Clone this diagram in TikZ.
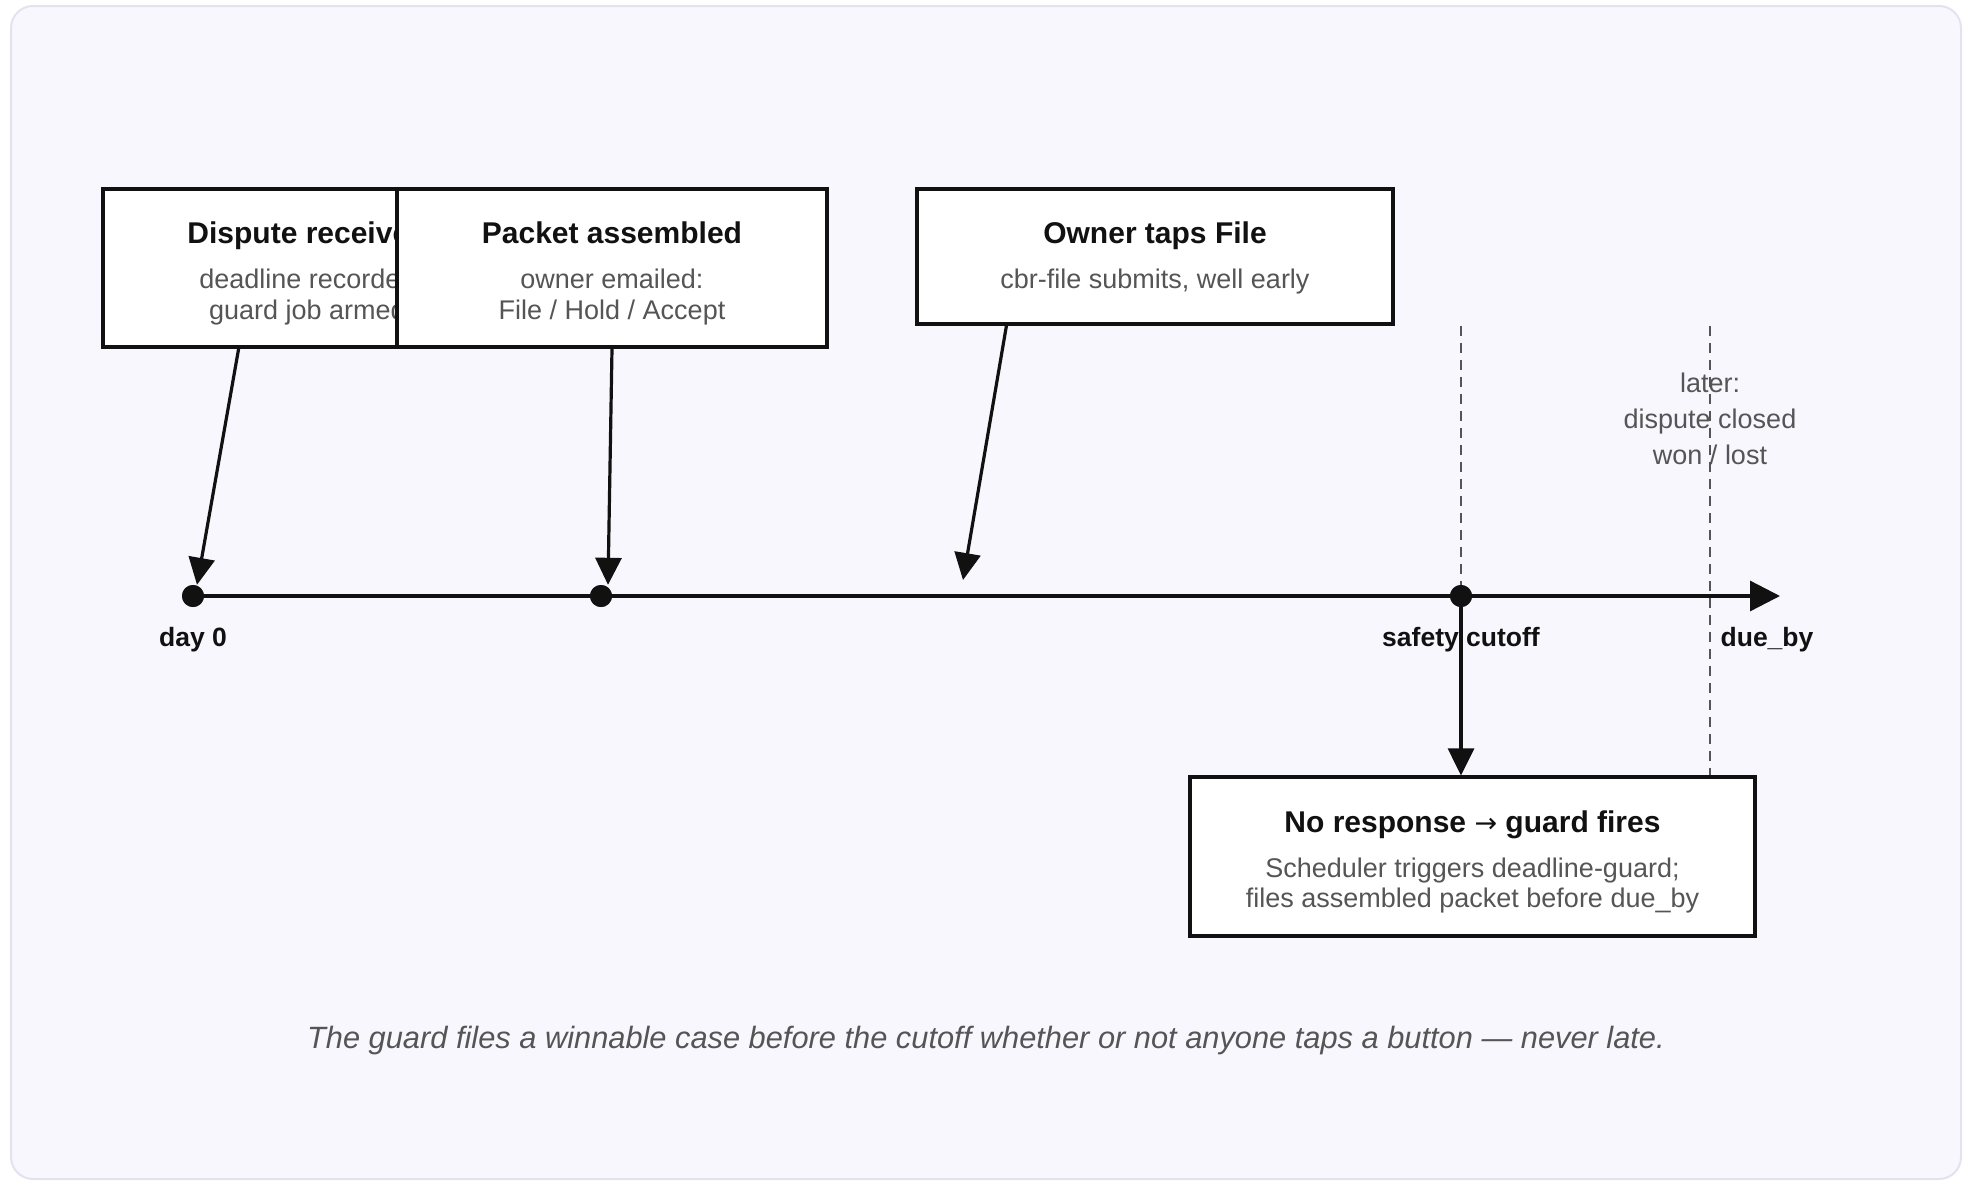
\documentclass[tikz,border=0pt]{standalone}
\usepackage{fontspec}
\setmainfont{Liberation Sans}
\newfontfamily\evarrowfont{DejaVu Sans}
\usetikzlibrary{arrows.meta,calc}

\definecolor{ink}{HTML}{111111}
\definecolor{muted}{HTML}{555555}
\definecolor{panelfill}{HTML}{F8F7FE}
\definecolor{panelline}{HTML}{E4E2EF}

\newcommand\evtitlefont{\fontsize{30}{34}\selectfont\bfseries}
\newcommand\evsubfont{\fontsize{27}{31}\selectfont}
\newcommand\evlabelfont{\fontsize{26.5}{31}\selectfont\bfseries}
\newcommand\evcaptionfont{\fontsize{30.8}{35}\selectfont\itshape}

\begin{document}
\begin{tikzpicture}[x=1pt,y=-1pt,
  evbox/.style={draw=ink, fill=white, line width=3.2pt, inner sep=0pt},
  evtitle/.style={font=\evtitlefont, text=ink, anchor=base, inner sep=0pt},
  evsub/.style={font=\evsubfont, text=muted, anchor=base, inner sep=0pt},
  evlabel/.style={font=\evlabelfont, text=ink, anchor=base, inner sep=0pt},
  tdot/.style={circle, fill=ink, minimum size=22pt, inner sep=0pt},
  conn/.style={draw=ink, line width=3.2pt, -{Triangle[length=27pt,width=26pt]}},
  axisline/.style={draw=ink, line width=3.3pt, -{Triangle[length=30pt,width=30pt]}},
  guide/.style={draw=muted, line width=2.2pt, dash pattern=on 10pt off 7pt}]

\useasboundingbox (0,0) rectangle (1968,1181);

% panel
\draw[panelline, fill=panelfill, line width=2pt, rounded corners=22pt]
  (11,6) rectangle (1961,1179);

% timeline points
\coordinate (axisend) at (1780,596);
\coordinate (fileat) at (963,580);
\node[tdot] (d0) at (193,596) {};
\node[tdot] (dpk) at (601,596) {};
\node[tdot] (dcut) at (1461,596) {};
\coordinate (ddue) at (1710,596);

% event boxes
\node[evbox, minimum width=409pt, minimum height=158pt] (b1) at (307.5,268) {};
\node[evtitle] (t1) at (307.5,243) {Dispute received};
\node[evsub] (s1a) at (307.5,288) {deadline recorded};
\node[evsub] (s1b) at (307.5,319) {guard job armed};

\node[evbox, minimum width=430pt, minimum height=158pt] (b2) at (612,268) {};
\node[evtitle] (t2) at (612,243) {Packet assembled};
\node[evsub] (s2a) at (612,288) {owner emailed:};
\node[evsub] (s2b) at (612,319) {File / Hold / Accept};

\node[evbox, minimum width=476pt, minimum height=135pt] (b3) at (1155,256.5) {};
\node[evtitle] (t3) at (1155,243) {Owner taps File};
\node[evsub] (s3a) at (1155,288) {cbr-file submits, well early};

\node[evbox, minimum width=565pt, minimum height=159pt] (b4) at (1472.5,856.5) {};
\node[evtitle] (t4) at (1472.5,832) {No response {\evarrowfont\mdseries\fontsize{27}{30}\selectfont →} guard fires};
\node[evsub] (s4a) at (1472.5,877) {Scheduler triggers deadline-guard;};
\node[evsub] (s4b) at (1472.5,907) {files assembled packet before due\_by};

% note after the due date
\node[evsub] (n1) at (1710,392) {later:};
\node[evsub] (n2) at (1710,428) {dispute closed};
\node[evsub] (n3) at (1710,464) {won / lost};

% axis labels
\node[evlabel] (l0) at (193,646) {day 0};
\node[evlabel] (lcut) at (1461,646) {safety cutoff};
\node[evlabel] (ldue) at (1767,646) {due\_by};

% guide lines
\draw[guide] (dcut |- b3.south) -- (dcut.center);
\draw[guide] (ddue |- b3.south) -- (ddue |- b4.north);

% axis
\draw[axisline] (d0.center) -- (axisend);
\node[tdot] at (d0) {};
\node[tdot] at (dpk) {};
\node[tdot] at (dcut) {};

% connectors
\draw[conn] ($(b1.south west)!0.333!(b1.south east)$) -- ([xshift=4pt]d0.north);
\draw[conn] (b2.south) -- ([xshift=7pt]dpk.north);
\draw[conn] ($(b3.south west)!0.19!(b3.south east)$) -- (fileat);
\draw[conn] (dcut) -- (dcut |- b4.north);

% caption
\node[font=\evcaptionfont, text=muted, anchor=base, inner sep=0pt] (cap) at (986,1048)
  {The guard files a winnable case before the cutoff whether or not anyone taps a button — never late.};
\end{tikzpicture}
\end{document}
